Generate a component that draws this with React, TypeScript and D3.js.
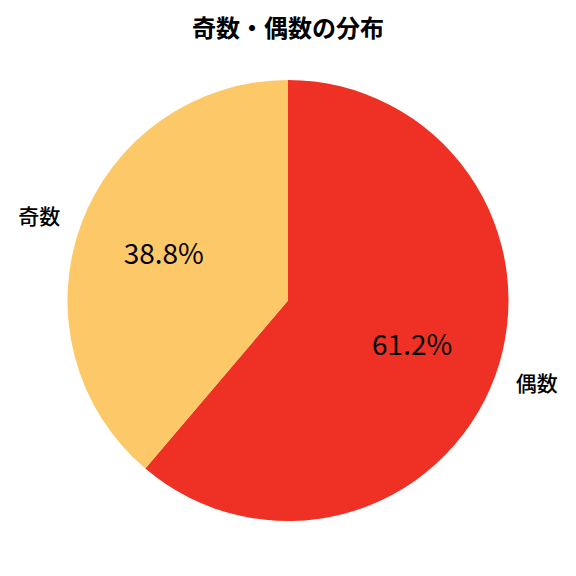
import React, { useEffect, useRef } from 'react';
import * as d3 from 'd3';

const categories = ['偶数', '奇数'];
const values = [61.2, 38.8];
const colors = ['#ee3124', '#fdc867'];
const title = '奇数・偶数の分布';

export default function App() {
  const svgRef = useRef<SVGSVGElement>(null);

  useEffect(() => {
    if (!svgRef.current) return;
    const width = 576;
    const height = 576;
    const cx = 288;
    const cy = 300.5;
    const radius = 220.5;
    const font = '"Noto Sans CJK JP", "Noto Sans", sans-serif';

    const svg = d3.select(svgRef.current);
    svg.selectAll('*').remove();
    svg.attr('width', width).attr('height', height);

    svg.append('rect').attr('width', width).attr('height', height).attr('fill', '#fff');

    svg.append('text')
      .attr('x', cx)
      .attr('y', 26)
      .attr('text-anchor', 'middle')
      .attr('dominant-baseline', 'central')
      .style('font-family', font)
      .style('font-weight', 'bold')
      .style('font-size', '24px')
      .text(title);

    const data = categories.map((c, i) => ({ name: c, value: values[i], color: colors[i] }));
    const pie = d3.pie<typeof data[0]>().sort(null).value(d => d.value).startAngle(0).endAngle(2 * Math.PI);
    const arcs = pie(data);
    const arc = d3.arc<d3.PieArcDatum<typeof data[0]>>().innerRadius(0).outerRadius(radius);

    const g = svg.append('g').attr('transform', `translate(${cx},${cy})`);

    g.selectAll('path')
      .data(arcs)
      .enter()
      .append('path')
      .attr('d', arc)
      .attr('fill', d => d.data.color);

    const total = d3.sum(values);

    arcs.forEach(a => {
      const mid = (a.startAngle + a.endAngle) / 2;
      const sx = Math.sin(mid);
      const sy = -Math.cos(mid);
      // カテゴリラベル
      g.append('text')
        .attr('x', sx * radius * 1.1)
        .attr('y', sy * radius * 1.1 - 2)
        .attr('text-anchor', sx >= 0 ? 'start' : 'end')
        .attr('dominant-baseline', 'central')
        .style('font-family', font)
        .style('font-weight', 500)
        .style('font-size', '21px')
        .text(a.data.name);
      // パーセント
      g.append('text')
        .attr('x', sx * radius * 0.6)
        .attr('y', sy * radius * 0.6 - 3)
        .attr('text-anchor', 'middle')
        .attr('dominant-baseline', 'central')
        .style('font-family', font)
        .style('font-size', '28px')
        .text(`${((a.data.value / total) * 100).toFixed(1)}%`);
    });
  }, []);

  return <svg ref={svgRef} style={{ display: 'block', margin: '-8px' }}></svg>;
}
